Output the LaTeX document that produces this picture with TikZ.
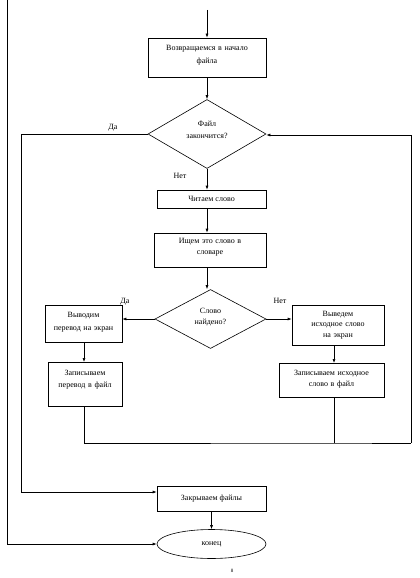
\documentclass[tikz,border=0pt]{standalone}
\usepackage{fontspec}
\setmainfont{Liberation Serif}
\usetikzlibrary{shapes.geometric,arrows.meta}
\begin{document}
\begin{tikzpicture}[x=1pt,y=-1pt,
  every node/.style={font=\fontsize{8}{11.5}\selectfont},
  box/.style={draw,line width=0.6pt,rectangle,inner sep=0pt,align=center},
  dia/.style={draw,line width=0.6pt,diamond,aspect=2,inner sep=0pt,align=center},
  con/.style={line width=0.6pt},
  arr/.style={line width=0.6pt,-{Latex[length=4pt,width=3pt]}},
  lbl/.style={inner sep=0pt}]
\useasboundingbox (0,0) rectangle (420,578);
% nodes
\node[box,minimum width=118pt,minimum height=39pt,text width=112pt,text depth=19pt,font=\fontsize{8}{12.5}\selectfont] (b1) at (207,57.5) {Возвращаемся в начало\\файла};
\node[dia,minimum width=118pt,minimum height=69pt,text depth=8pt,font=\fontsize{8}{12.5}\selectfont] (d1) at (207,134) {Файл\\закончится?};
\node[box,minimum width=109pt,minimum height=18pt] (b2) at (211.5,199) {Читаем слово};
\node[box,minimum width=112pt,minimum height=34pt,text width=106pt,text depth=19pt] (b3) at (210,250) {Ищем это слово в\\словаре};
\node[dia,minimum width=111pt,minimum height=59pt,text depth=5pt] (d2) at (210.5,319) {Слово\\найдено?};
\node[box,minimum width=77pt,minimum height=37pt,text width=76pt,text depth=17pt,font=\fontsize{8}{12.5}\selectfont] (b4) at (83.5,323.5) {Выводим\\перевод на экран};
\node[box,minimum width=92pt,minimum height=40pt,text width=90pt,text depth=23pt,font=\fontsize{8}{10.8}\selectfont] (b5) at (338,325) {Выведем\\исходное слово\\на экран};
\node[box,minimum width=74pt,minimum height=44pt,text width=73pt,text depth=22.5pt,anchor=north] (b6) at (85,362) {Записываем\\перевод в файл};
\node[box,minimum width=105pt,minimum height=34pt,text width=104pt,text depth=15pt,anchor=north] (b7) at (331.5,363) {Записываем исходное\\слово в файл};
\node[box,minimum width=109pt,minimum height=25pt] (b8) at (211.5,498.5) {Закрываем файлы};
\node[draw,line width=0.6pt,ellipse,minimum width=109pt,minimum height=29pt,inner sep=0pt] (e1) at (211.5,544) {конец};
% coordinates
\coordinate (top) at (207,10);
\coordinate (lt) at (7,0);
\coordinate (lb) at (7,544);
\coordinate (ya) at (21,134);
\coordinate (yb) at (21,492);
\coordinate (j1) at (84,443);
\coordinate (j2) at (334,443);
\coordinate (j3) at (411,443);
\coordinate (j4) at (411,135);
% connectors
\draw[arr] (top) -- (b1.north);
\draw[arr] (b1.south) -- (d1.north);
\draw[arr] (d1.south) -- (b2.north -| d1.south);
\draw[arr] (b2.south -| 207,0) -- (b3.north -| 207,0);
\draw[arr] (b3.south -| 207,0) -- (d2.north -| 207,0);
\draw[arr] (d2.west) -- (b4.east |- d2.west);
\draw[arr] (d2.east) -- (b5.west |- d2.east);
\draw[arr] (b4.south -| 84,0) -- (b6.north -| 84,0);
\draw[arr] (b5.south -| 334,0) -- (b7.north -| 334,0);
\draw[con] (b6.south -| j1) -- (j1) -- (j2) -- (j3);
\draw[con] (b7.south -| j2) -- (j2);
\draw[arr] (j3) -- (j4) -- (d1.east |- j4);
\draw[arr] (d1.west) -- (ya) -- (yb) -- (b8.west |- yb);
\draw[arr] (b8.south) -- (e1.north);
\draw[arr] (lt) -- (lb) -- (e1.west);
% labels
\node[lbl] (l1) at (113,128) {Да};
\node[lbl] (l2) at (180,176) {Нет};
\node[lbl] (l3) at (125,302) {Да};
\node[lbl] (l4) at (280,301) {Нет};
\node[lbl,font=\fontsize{5}{6}\selectfont] (pg) at (232,571) {8};
\end{tikzpicture}
\end{document}
